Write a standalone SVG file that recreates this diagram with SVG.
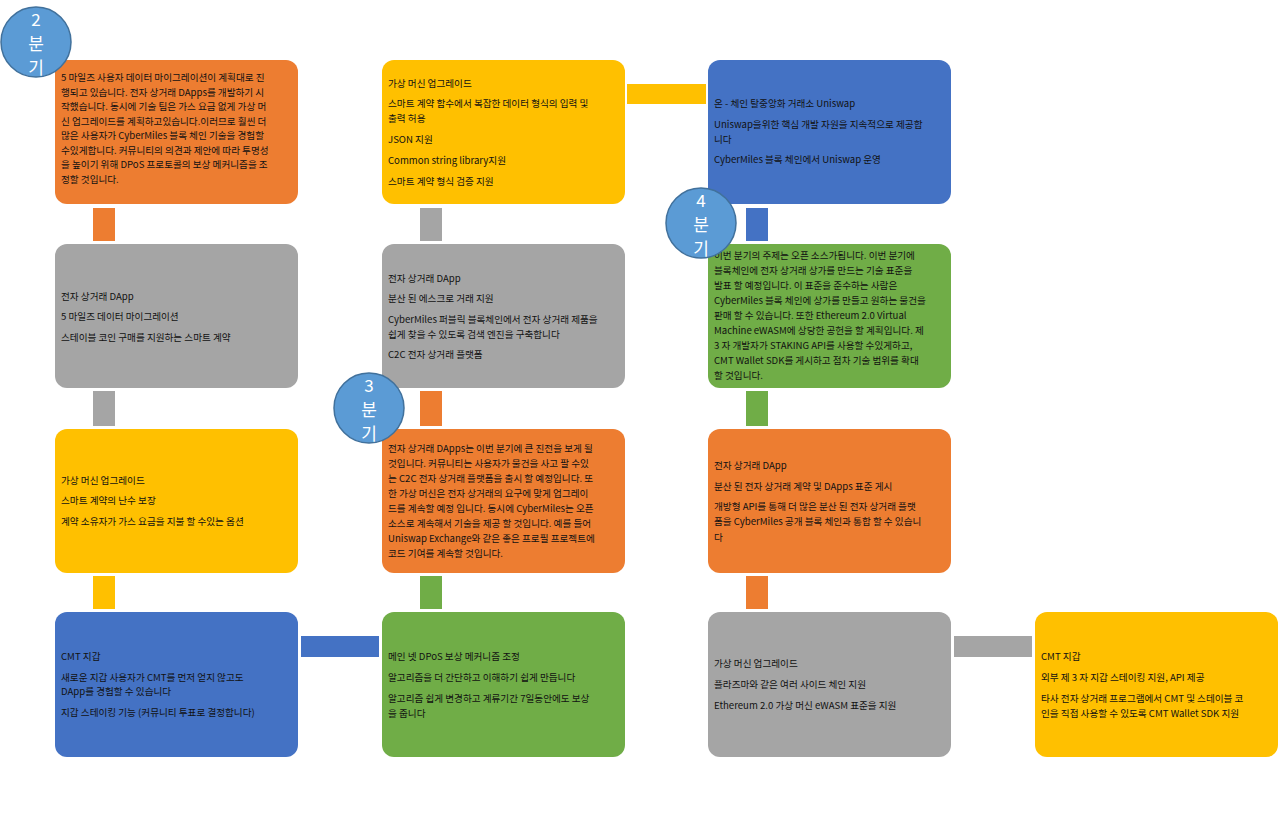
<svg xmlns="http://www.w3.org/2000/svg" width="1280" height="817" viewBox="0 0 1280 817">
<style>
text{font-family:"Noto Sans CJK KR","Liberation Sans",sans-serif;font-size:9.6px;fill:#111}
.o{fill:#ed7d31}.g{fill:#a5a5a5}.y{fill:#ffc000}.b{fill:#4472c4}.gr{fill:#70ad47}
.q{fill:#5b9bd5;stroke:#41719c;stroke-width:1.5}
.qt{fill:#fff;font-size:17px;text-anchor:middle}
</style>
<rect width="1280" height="817" fill="#fff"/>
<g id="connectors">
<rect class="o" x="93" y="208" width="22" height="33"/>
<rect class="g" x="93" y="391" width="22" height="35"/>
<rect class="y" x="93" y="576" width="22" height="33"/>
<rect class="b" x="301" y="636" width="78" height="21"/>
<rect class="g" x="420" y="208" width="22" height="33"/>
<rect class="o" x="420" y="391" width="22" height="35"/>
<rect class="gr" x="420" y="576" width="22" height="33"/>
<rect class="y" x="627" y="84" width="79" height="20"/>
<rect class="b" x="746" y="208" width="22" height="33"/>
<rect class="gr" x="746" y="391" width="22" height="35"/>
<rect class="o" x="746" y="576" width="22" height="33"/>
<rect class="g" x="954" y="636" width="78" height="21"/>
</g>
<g id="b1"><rect class="o" x="55" y="60" width="243" height="144" rx="12"/>
<text x="61" y="81">5 마일즈 사용자 데이터 마이그레이션이 계획대로 진</text>
<text x="61" y="95.5">행되고 있습니다. 전자 상거래 DApps를 개발하기 시</text>
<text x="61" y="110">작했습니다. 동시에 기술 팀은 가스 요금 없게 가상 머</text>
<text x="61" y="124.5">신 업그레이드를 계획하고있습니다.이러므로 훨씬 더</text>
<text x="61" y="139">많은 사용자가 CyberMiles 블록 체인 기술을 경험할</text>
<text x="61" y="153.5">수있게합니다. 커뮤니티의 의견과 제안에 따라 투명성</text>
<text x="61" y="168">을 높이기 위해 DPoS 프로토콜의 보상 메커니즘을 조</text>
<text x="61" y="182.5">정할 것입니다.</text></g>
<g id="b2"><rect class="g" x="55" y="244" width="243" height="144" rx="12"/>
<text x="61" y="300">전자 상거래 DApp</text>
<text x="61" y="320">5 마일즈 데이터 마이그레이션</text>
<text x="61" y="341">스테이블 코인 구매를 지원하는 스마트 계약</text></g>
<g id="b3"><rect class="y" x="55" y="429" width="243" height="144" rx="12"/>
<text x="61" y="484">가상 머신 업그레이드</text>
<text x="61" y="504">스마트 계약의 난수 보장</text>
<text x="61" y="525">계약 소유자가 가스 요금을 지불 할 수있는 옵션</text></g>
<g id="b4"><rect class="b" x="55" y="612" width="243" height="145" rx="12"/>
<text x="61" y="660">CMT 지갑</text>
<text x="61" y="681">새로운 지갑 사용자가 CMT를 먼저 얻지 않고도</text>
<text x="61" y="695">DApp를 경험할 수 있습니다</text>
<text x="61" y="716">지갑 스테이킹 기능 (커뮤니티 투표로 결정합니다)</text></g>
<g id="c1"><rect class="y" x="382" y="60" width="243" height="144" rx="12"/>
<text x="388" y="87">가상 머신 업그레이드</text>
<text x="388" y="107">스마트 계약 함수에서 복잡한 데이터 형식의 입력 및</text>
<text x="388" y="122">출력 허용</text>
<text x="388" y="143">JSON 지원</text>
<text x="388" y="164">Common string library지원</text>
<text x="388" y="185">스마트 계약 형식 검증 지원</text></g>
<g id="c2"><rect class="g" x="382" y="244" width="243" height="144" rx="12"/>
<text x="388" y="282">전자 상거래 DApp</text>
<text x="388" y="302">분산 된 에스크로 거래 지원</text>
<text x="388" y="323">CyberMiles 퍼블릭 블록체인에서 전자 상거래 제품을</text>
<text x="388" y="338">쉽게 찾을 수 있도록 검색 엔진을 구축합니다</text>
<text x="388" y="358">C2C 전자 상거래 플랫폼</text></g>
<g id="c3"><rect class="o" x="382" y="429" width="243" height="144" rx="12"/>
<text x="388" y="452">전자 상거래 DApps는 이번 분기에 큰 진전을 보게 될</text>
<text x="388" y="467">것입니다. 커뮤니티는 사용자가 물건을 사고 팔 수있</text>
<text x="388" y="482">는 C2C 전자 상거래 플랫폼을 출시 할 예정입니다. 또</text>
<text x="388" y="497">한 가상 머신은 전자 상거래의 요구에 맞게 업그레이</text>
<text x="388" y="511.5">드를 계속할 예정 입니다. 동시에 CyberMiles는 오픈</text>
<text x="388" y="526.5">소스로 계속해서 기술을 제공 할 것입니다. 예를 들어</text>
<text x="388" y="541.5">Uniswap Exchange와 같은 좋은 프로필 프로젝트에</text>
<text x="388" y="556.5">코드 기여를 계속할 것입니다.</text></g>
<g id="c4"><rect class="gr" x="382" y="612" width="243" height="145" rx="12"/>
<text x="388" y="660">메인 넷 DPoS 보상 메커니즘 조정</text>
<text x="388" y="681">알고리즘을 더 간단하고 이해하기 쉽게 만듭니다</text>
<text x="388" y="702">알고리즘 쉽게 변경하고 계류기간 7일동안에도 보상</text>
<text x="388" y="717">을 줍니다</text></g>
<g id="d1"><rect class="b" x="708" y="60" width="243" height="144" rx="12"/>
<text x="714" y="107">온 - 체인 탈중앙화 거래소 Uniswap</text>
<text x="714" y="128">Uniswap을위한 핵심 개발 자원을 지속적으로 제공합</text>
<text x="714" y="143">니다</text>
<text x="714" y="163">CyberMiles 블록 체인에서 Uniswap 운영</text></g>
<g id="d2"><rect class="gr" x="708" y="244" width="243" height="144" rx="12"/>
<text x="714" y="259">이번 분기의 주제는 오픈 소스가됩니다. 이번 분기에</text>
<text x="714" y="274">블록체인에 전자 상거래 상가를 만드는 기술 표준을</text>
<text x="714" y="289">발표 할 예정입니다. 이 표준을 준수하는 사람은</text>
<text x="714" y="304">CyberMiles 블록 체인에 상가를 만들고 원하는 물건을</text>
<text x="714" y="319">판매 할 수 있습니다. 또한 Ethereum 2.0 Virtual</text>
<text x="714" y="334">Machine eWASM에 상당한 공헌을 할 계획입니다. 제</text>
<text x="714" y="349">3 자 개발자가 STAKING API를 사용할 수있게하고,</text>
<text x="714" y="364">CMT Wallet SDK를 게시하고 점차 기술 범위를 확대</text>
<text x="714" y="379">할 것입니다.</text></g>
<g id="d3"><rect class="o" x="708" y="429" width="243" height="144" rx="12"/>
<text x="714" y="469">전자 상거래 DApp</text>
<text x="714" y="490">분산 된 전자 상거래 계약 및 DApps 표준 게시</text>
<text x="714" y="510">개방형 API를 통해 더 많은 분산 된 전자 상거래 플랫</text>
<text x="714" y="525">폼을 CyberMiles 공개 블록 체인과 통합 할 수 있습니</text>
<text x="714" y="541">다</text></g>
<g id="d4"><rect class="g" x="708" y="612" width="243" height="145" rx="12"/>
<text x="714" y="667">가상 머신 업그레이드</text>
<text x="714" y="688">플라즈마와 같은 여러 사이드 체인 지원</text>
<text x="714" y="709">Ethereum 2.0 가상 머신 eWASM 표준을 지원</text></g>
<g id="e4"><rect class="y" x="1035" y="612" width="243" height="145" rx="12"/>
<text x="1041" y="660">CMT 지갑</text>
<text x="1041" y="681">외부 제 3 자 지갑 스테이킹 지원, API 제공</text>
<text x="1041" y="702">타사 전자 상거래 프로그램에서 CMT 및 스테이블 코</text>
<text x="1041" y="717">인을 직접 사용할 수 있도록 CMT Wallet SDK 지원</text></g>
<g id="q2"><circle class="q" cx="36" cy="42" r="35"/>
<text class="qt" x="36" y="26">2</text><text class="qt" x="36" y="50">분</text><text class="qt" x="36" y="74">기</text></g>
<g id="q3"><circle class="q" cx="369" cy="408" r="35"/>
<text class="qt" x="369" y="392">3</text><text class="qt" x="369" y="416">분</text><text class="qt" x="369" y="440">기</text></g>
<g id="q4"><circle class="q" cx="701" cy="223" r="35"/>
<text class="qt" x="701" y="207">4</text><text class="qt" x="701" y="231">분</text><text class="qt" x="701" y="255">기</text></g>
</svg>
